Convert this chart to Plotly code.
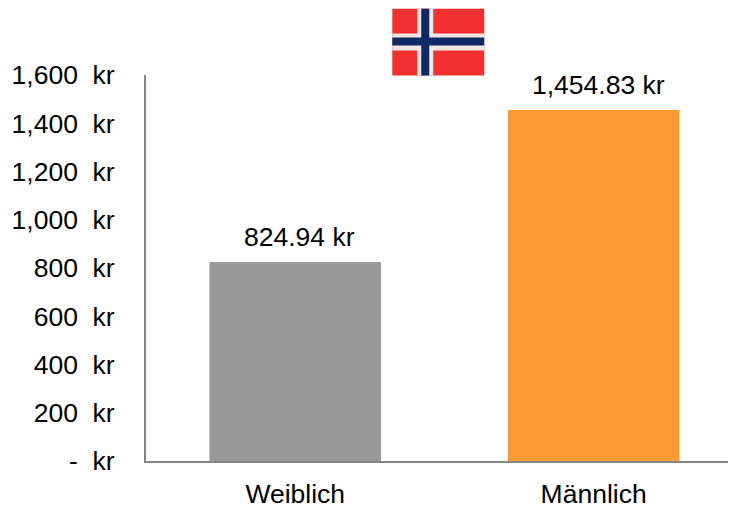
import plotly.graph_objects as go

categories = ["Weiblich", "Männlich"]
values = [824.94, 1454.83]
bar_labels = ["824.94 kr", "1,454.83 kr"]
bar_colors = ["#999999", "#FF9933"]
tick_vals = [0, 200, 400, 600, 800, 1000, 1200, 1400, 1600]
tick_text = ["-\u00a0\u00a0kr", "200\u00a0\u00a0kr", "400\u00a0\u00a0kr", "600\u00a0\u00a0kr", "800\u00a0\u00a0kr",
             "1,000\u00a0\u00a0kr", "1,200\u00a0\u00a0kr", "1,400\u00a0\u00a0kr", "1,600\u00a0\u00a0kr"]

PAGE = 8  # default body margin of the page
W, H = 736 - PAGE, 508 - PAGE
L, T, B = 145.5 - PAGE, 74.5 - PAGE, 46.5
FONT = "Liberation Sans, Arial, sans-serif"
SIZE = 26.5

fig = go.Figure(go.Bar(
    x=categories, y=values, marker=dict(color=bar_colors, line=dict(width=0)),
    width=0.575, cliponaxis=False,
))

# helpers for the decorative flag, given in window pixels
def px(x): return (x - PAGE - L) / (W - L)
def py(y): return 1 - (y - PAGE - T) / (H - T - B)
def flag_rect(x0, y0, x1, y1, color):
    return dict(type="rect", xref="paper", yref="paper", layer="above",
                x0=px(x0), x1=px(x1), y0=py(y0), y1=py(y1),
                fillcolor=color, line=dict(width=0))

shapes = [
    flag_rect(392, 8, 484, 75, "#F23030"),
    flag_rect(417, 8, 433, 75, "#F5E6E6"),
    flag_rect(392, 33, 484, 50, "#F5E6E6"),
    flag_rect(421, 8, 429, 75, "#0F2A66"),
    flag_rect(392, 37, 484, 45, "#0F2A66"),
]

annotations = [
    dict(x=c, y=v, text=t, xref="x", yref="y", showarrow=False, xanchor="center", yanchor="bottom",
         yshift=8, xshift=4.5, font=dict(family=FONT, size=SIZE, color="#000000"))
    for c, v, t in zip(categories, values, bar_labels)
]

fig.update_layout(
    width=W, height=H, autosize=False, showlegend=False,
    paper_bgcolor="white", plot_bgcolor="white",
    margin=dict(l=L, r=0, t=T, b=B, pad=0, autoexpand=False),
    font=dict(family=FONT, size=SIZE, color="#000000"),
    shapes=shapes, annotations=annotations,
    xaxis=dict(type="category", range=[-0.5, 1.477], showgrid=False, zeroline=False, automargin=False,
               showline=True, linecolor="#868686", linewidth=2, ticks="",
               tickfont=dict(family=FONT, size=SIZE), ticklabelstandoff=8),
    yaxis=dict(range=[0, 1600], tickvals=tick_vals, ticktext=tick_text, showgrid=False, automargin=False,
               zeroline=False, showline=True, linecolor="#868686", linewidth=2, ticks="",
               tickfont=dict(family=FONT, size=SIZE), ticklabelstandoff=24),
)
fig.write_html("out.html")
